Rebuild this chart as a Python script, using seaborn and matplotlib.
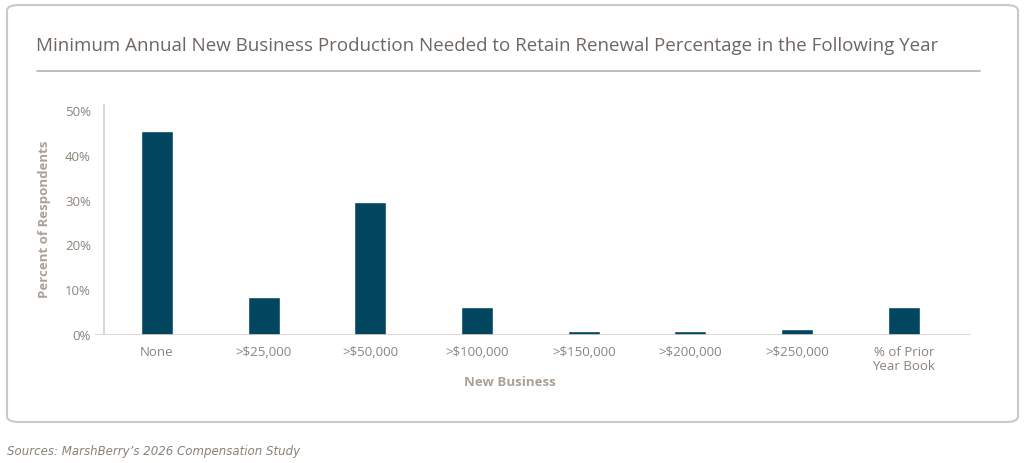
import matplotlib
matplotlib.use("Agg")
import matplotlib.pyplot as plt
from matplotlib.patches import FancyBboxPatch
from matplotlib.lines import Line2D
from matplotlib.ticker import FuncFormatter
import seaborn as sns
import pandas as pd

categories = ["None", ">$25,000", ">$50,000", ">$100,000", ">$150,000",
              ">$200,000", ">$250,000", "% of Prior\nYear Book"]
percent = [45.6, 8.5, 29.7, 6.2, 0.8, 0.8, 1.4, 6.2]
y_ticks = [0, 10, 20, 30, 40, 50]

title = "Minimum Annual New Business Production Needed to Retain Renewal Percentage in the Following Year"
source = "Sources: MarshBerry\u2019s 2026 Compensation Study"

sns.set_theme(style="white")
plt.rcParams['font.family'] = ['Open Sans', 'DejaVu Sans']

bar_color = "#02465f"
tick_color = "#8c847c"
label_color = "#aaa097"
title_color = "#6e6661"
line_color = "#d4cfca"

df = pd.DataFrame({"cat": categories, "pct": percent})

fig = plt.figure(figsize=(10.24, 4.63), dpi=100)
ax = fig.add_axes([95/1024, 1-335/463, (970-95)/1024, (335-104)/463])

sns.barplot(data=df, x="cat", y="pct", color=bar_color, width=0.3,
            saturation=1, ax=ax)

ax.set_xlim(-0.58, 7.62)
ax.set_ylim(0, 51.6)
ax.set_yticks(y_ticks)
ax.yaxis.set_major_formatter(FuncFormatter(lambda v, p: f"{v:.0f}%"))
for s in ["top", "right", "left", "bottom"]:
    ax.spines[s].set_visible(False)
ax.axvline(-0.5, color=line_color, lw=1.2)
ax.axhline(0, color=line_color, lw=1.2)

ax.tick_params(axis="both", length=0, labelsize=9.5, labelcolor=tick_color)
ax.tick_params(axis="y", pad=3)
ax.tick_params(axis="x", pad=8)
ax.set_xlabel("New Business", fontsize=9.5, fontweight="bold", color=label_color, labelpad=2)
ax.xaxis.set_label_coords((510-95)/(970-95), -0.178)
ax.set_ylabel("Percent of Respondents", fontsize=9.5, fontweight="bold", color=label_color, labelpad=10)
for lbl in ax.get_xticklabels():
    lbl.set_linespacing(1.05)

# outer box
box = FancyBboxPatch((7/1024, 1-422/463), (1018-7)/1024, (422-5)/463,
                     boxstyle="round,pad=0,rounding_size=0.012",
                     transform=fig.transFigure, fill=False,
                     edgecolor="#cdc8c2", lw=1.5, zorder=0)
fig.patches.append(box)

fig.text(36/1024, 1-46/463, title, fontsize=13.5, color=title_color, va="center", ha="left")
fig.lines.append(Line2D([37/1024, 980/1024], [1-71/463, 1-71/463],
                        transform=fig.transFigure, color="#b9b2ab", lw=1.2))

fig.text(7/1024, 1-452/463, source, fontsize=8.5, color="#8a8178", style="italic",
         family=["DejaVu Sans"], va="center", ha="left")

fig.savefig("out.png", dpi=100)
